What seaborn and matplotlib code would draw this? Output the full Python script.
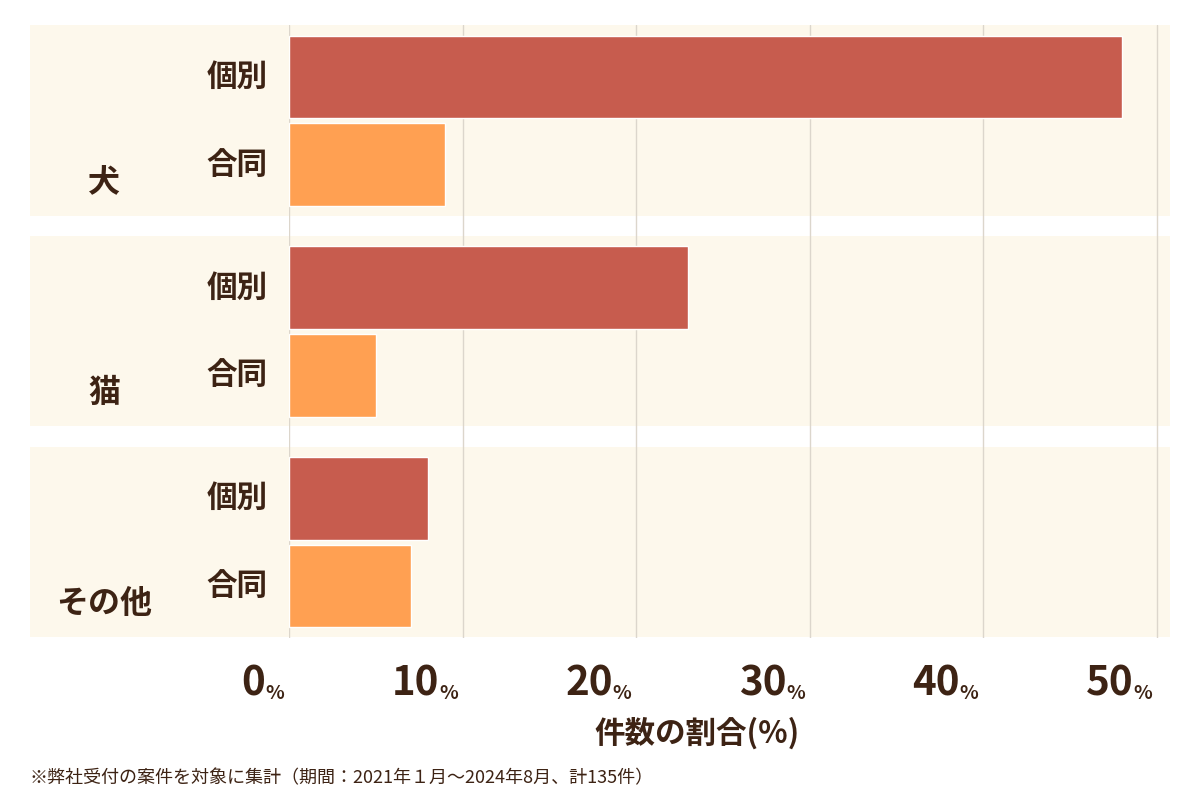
import numpy as np
import pandas as pd
import matplotlib
matplotlib.use("Agg")
import matplotlib.pyplot as plt
import matplotlib.transforms as mtransforms
from matplotlib.patches import Rectangle
import seaborn as sns

# データ（件数の割合 %）
groups = ["犬", "猫", "その他"]
kinds = ["個別", "合同"]
kobetsu = [48, 23, 8]
goudou = [9, 5, 7]
xticks = [0, 10, 20, 30, 40, 50]

ink = "#3d2314"
colors = {"個別": "#c75c4e", "合同": "#ffa052"}

sns.set_theme(style="white")
plt.rcParams['font.family'] = ['Noto Sans CJK JP', 'DejaVu Sans']
plt.rcParams['font.weight'] = 'bold'

rows = []
for g, (k, v) in enumerate(zip(kobetsu, goudou)):
    rows.append({"group": groups[g], "kind": "個別", "pos": g * 2.4, "value": k})
    rows.append({"group": groups[g], "kind": "合同", "pos": g * 2.4 + 1, "value": v})
df = pd.DataFrame(rows)

fig = plt.figure(figsize=(12, 8), dpi=100)
ax = fig.add_axes([289 / 1200, 1 - 638 / 800, (1170 - 289) / 1200, 613 / 800])

sns.barplot(data=df, x="value", y="pos", hue="kind", palette=colors, orient="h",
            native_scale=True, width=0.94, dodge=False, legend=False, ax=ax,
            saturation=1, zorder=3)

ax.set_xlim(0, 50.75)
ax.set_ylim(6.39, -0.59)

# 背景の帯
left = (30 - 289) / (1170 - 289)
trans = mtransforms.blended_transform_factory(ax.transAxes, ax.transData)
for g in range(len(groups)):
    y0 = g * 2.4 - 0.59
    ax.add_patch(Rectangle((left, y0), 1 - left, 2.17, transform=trans,
                           facecolor="#fdf8ec", edgecolor="none", clip_on=False, zorder=0))
    ax.text(-0.21, g * 2.4 + 1.2, groups[g], transform=trans, ha="center", va="center",
            fontsize=23, color=ink, fontweight="bold")
    for j, kd in enumerate(kinds):
        ax.text(-0.059, g * 2.4 + j, kd, transform=trans, ha="center", va="center",
                fontsize=22, color=ink, fontweight="bold")

for t in xticks:
    ax.axvline(t, color="#dcd6cc", lw=1, zorder=1)
    ax.annotate(str(t), xy=(t, 0), xycoords=("data", "axes fraction"),
                xytext=(-17, -48), textcoords="offset points", ha="right", va="bottom",
                fontsize=29, fontweight="bold", color=ink, annotation_clip=False)
    ax.annotate("%", xy=(t, 0), xycoords=("data", "axes fraction"),
                xytext=(-17, -47), textcoords="offset points", ha="left", va="bottom",
                fontsize=14, fontweight="bold", color=ink, annotation_clip=False)

ax.set_xticks([])
ax.set_yticks([])
ax.set_xlabel("")
ax.set_ylabel("")
for s in ax.spines.values():
    s.set_visible(False)

ax.text(23.5, -0.13, "件数の割合(%)", transform=mtransforms.blended_transform_factory(ax.transData, ax.transAxes),
        ha="center", va="top", fontsize=22, fontweight="bold", color=ink)

fig.text(30 / 1200, 1 - 778 / 800, "※弊社受付の案件を対象に集計（期間：2021年１月～2024年8月、計135件）",
         ha="left", va="center", fontsize=13, fontweight="normal", color=ink)

fig.savefig("out.png", dpi=100, facecolor="white")
